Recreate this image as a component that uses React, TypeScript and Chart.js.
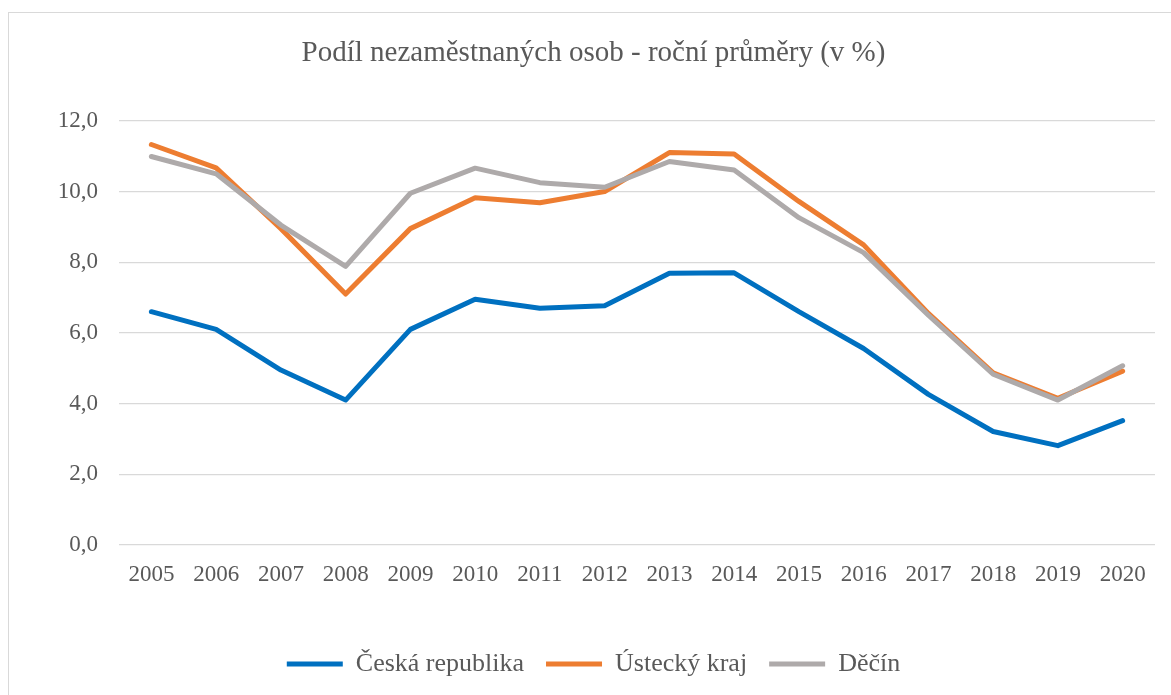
import React, { useEffect, useRef } from "react";
import { Chart, registerables } from "chart.js";

Chart.register(...registerables);

const years = ["2005","2006","2007","2008","2009","2010","2011","2012","2013","2014","2015","2016","2017","2018","2019","2020"];
const ceskaRepublika = [6.6, 6.1, 4.95, 4.1, 6.1, 6.95, 6.7, 6.77, 7.69, 7.7, 6.6, 5.56, 4.26, 3.21, 2.81, 3.52];
const usteckyKraj = [11.33, 10.67, 8.95, 7.1, 8.95, 9.82, 9.68, 10.0, 11.1, 11.06, 9.72, 8.49, 6.55, 4.87, 4.15, 4.92];
const decin = [10.99, 10.5, 9.05, 7.88, 9.95, 10.66, 10.25, 10.12, 10.85, 10.61, 9.26, 8.27, 6.5, 4.83, 4.1, 5.07];
const seriesNames = ["Česká republika", "Ústecký kraj", "Děčín"];
const titleText = "Podíl nezaměstnaných osob - roční průměry (v %)";

const FONT = "'Liberation Serif', 'Times New Roman', serif";
const TEXT = "#595959";

export default function App() {
  const ref = useRef<HTMLCanvasElement | null>(null);
  useEffect(() => {
    if (!ref.current) return;
    const mk = (label: string, data: number[], color: string, order: number) => ({
      label,
      data,
      borderColor: color,
      backgroundColor: color,
      borderWidth: 5,
      borderJoinStyle: "round" as const,
      borderCapStyle: "round" as const,
      pointRadius: 0,
      pointHoverRadius: 0,
      tension: 0,
      fill: false,
      order,
      pointStyle: "line" as const,
    });
    const chart = new Chart(ref.current, {
      type: "line",
      data: {
        labels: years,
        datasets: [
          mk(seriesNames[0], ceskaRepublika, "#0070C0", 3),
          mk(seriesNames[1], usteckyKraj, "#ED7D31", 2),
          mk(seriesNames[2], decin, "#AEAAAA", 1),
        ],
      },
      options: {
        animation: false,
        responsive: true,
        maintainAspectRatio: false,
        layout: { padding: { left: 0, right: 0, top: 0, bottom: 8 } },
        plugins: {
          title: {
            display: true,
            text: titleText,
            color: TEXT,
            font: { family: FONT, size: 29, weight: "normal" },
            padding: { top: 23, bottom: 50 },
          },
          legend: {
            display: true,
            position: "bottom",
            labels: {
              usePointStyle: true,
              pointStyleWidth: 56,
              color: TEXT,
              font: { family: FONT, size: 26 },
              padding: 22,
              sort: (a: any, b: any) => a.datasetIndex - b.datasetIndex,
            },
          },
          tooltip: { enabled: false },
        },
        scales: {
          x: {
            offset: true,
            grid: { display: false, offset: true },
            border: { display: false },
            ticks: {
              color: TEXT,
              font: { family: FONT, size: 23 },
              padding: 8,
              maxRotation: 0,
              autoSkip: false,
            },
            afterFit: (scale: any) => { scale.height = 84; },
          },
          y: {
            min: 0,
            max: 12,
            grid: { color: "#D9D9D9", lineWidth: 1.3, drawTicks: false },
            border: { display: false },
            ticks: {
              stepSize: 2,
              color: TEXT,
              font: { family: FONT, size: 23 },
              padding: 21,
              callback: (v: any) => Number(v).toFixed(1).replace(".", ","),
            },
            afterFit: (scale: any) => { scale.width = 110; },
          },
          ySpacer: {
            position: "right",
            min: 0,
            max: 12,
            grid: { display: false },
            border: { display: false },
            ticks: { display: false },
            afterFit: (scale: any) => { scale.width = 23; },
          },
        },
      },
    });
    return () => chart.destroy();
  }, []);

  return (
    <div
      style={{
        position: "fixed",
        left: 8,
        top: 12,
        width: 1171,
        height: 700,
        border: "1px solid #D9D9D9",
        boxSizing: "border-box",
        background: "#fff",
      }}
    >
      <div style={{ position: "relative", width: 1169, height: 682 }}>
        <canvas ref={ref} />
      </div>
    </div>
  );
}
